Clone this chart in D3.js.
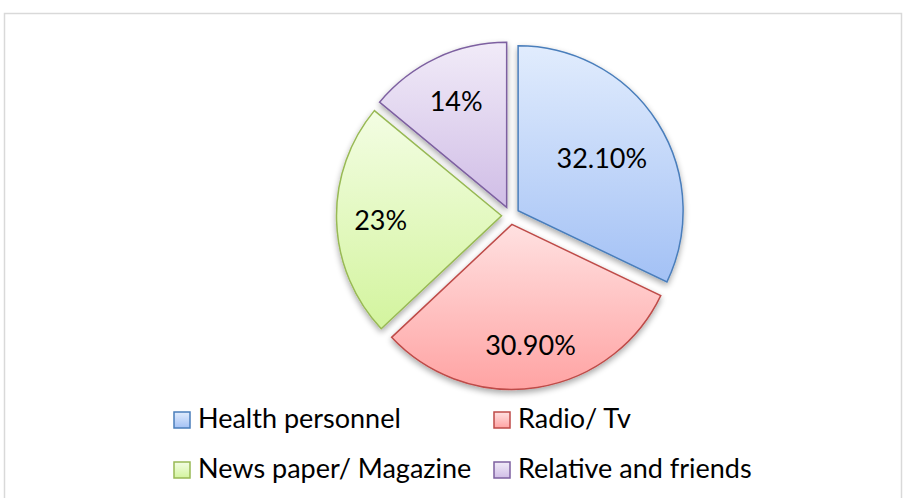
<!DOCTYPE html>
<html>
<head>
<meta charset="utf-8">
<script src="https://cdn.jsdelivr.net/npm/d3@7"></script>
<style>
  html, body { margin: 0; padding: 0; background: #fff; }
  svg { display: block; }
</style>
</head>
<body>
<svg id="chart" width="903" height="498"></svg>
<script>
// chart data
const categories = ['Health personnel', 'Radio/ Tv', 'News paper/ Magazine', 'Relative and friends'];
const values = [32.1, 30.9, 23, 14];
const labels = ['32.10%', '30.90%', '23%', '14%'];

// colours (Office style accents + light gradient stops)
const strokes = ['#4a7ebb', '#be4b48', '#98b954', '#7d60a0'];
const topColors = ['#e1ecfd', '#ffe1e1', '#f3fde3', '#f1ebf8'];
const bottomColors = ['#a3c1f5', '#ffa3a3', '#d3f49e', '#d0bde6'];

const width = 903, height = 498;
const cx = 510.5, cy = 215.5;   // pie centre
const radius = 165;
const explode = 9;
const font = 'Lato, "Liberation Sans", sans-serif';

const svg = d3.select('#chart');
const defs = svg.append('defs');

// soft shadow under the slices
const shadow = defs.append('filter')
  .attr('id', 'shadow')
  .attr('x', '-20%').attr('y', '-20%')
  .attr('width', '140%').attr('height', '140%');
shadow.append('feGaussianBlur').attr('in', 'SourceAlpha').attr('stdDeviation', 3);
shadow.append('feOffset').attr('dx', 0).attr('dy', 3).attr('result', 'off');
shadow.append('feComponentTransfer').append('feFuncA').attr('type', 'linear').attr('slope', 0.35);
const merge = shadow.append('feMerge');
merge.append('feMergeNode');
merge.append('feMergeNode').attr('in', 'SourceGraphic');

// one vertical gradient per category
categories.forEach((c, i) => {
  const g = defs.append('linearGradient')
    .attr('id', 'grad' + i)
    .attr('x1', 0).attr('y1', 0).attr('x2', 0).attr('y2', 1);
  g.append('stop').attr('offset', '0%').attr('stop-color', topColors[i]);
  g.append('stop').attr('offset', '100%').attr('stop-color', bottomColors[i]);
});

// chart area border
svg.append('rect')
  .attr('x', 4.5).attr('y', 13.5)
  .attr('width', 897).attr('height', 500)
  .attr('fill', '#fff')
  .attr('stroke', '#d9d9d9')
  .attr('stroke-width', 1.5);

const pie = d3.pie().sort(null).value(d => d)(values);
const arc = d3.arc().innerRadius(0).outerRadius(radius);

const pieG = svg.append('g')
  .attr('transform', `translate(${cx},${cy})`);

const slices = pieG.selectAll('g.slice')
  .data(pie)
  .enter()
  .append('g')
  .attr('class', 'slice')
  .attr('transform', d => {
    const a = (d.startAngle + d.endAngle) / 2;
    return `translate(${Math.sin(a) * explode},${-Math.cos(a) * explode})`;
  });

slices.append('path')
  .attr('d', arc)
  .attr('fill', (d, i) => `url(#grad${i})`)
  .attr('stroke', (d, i) => strokes[i])
  .attr('stroke-width', 1.5)
  .attr('stroke-linejoin', 'miter')
  .attr('filter', 'url(#shadow)');

// data labels: pushed out along the bisector until the box reaches a fixed radius
const labelReach = 148;
slices.append('text')
  .text((d, i) => labels[i])
  .attr('font-family', font)
  .attr('font-size', 27)
  .attr('fill', '#000')
  .attr('text-anchor', 'middle')
  .attr('dominant-baseline', 'central')
  .each(function(d) {
    const a = (d.startAngle + d.endAngle) / 2;
    const dx = Math.sin(a), dy = -Math.cos(a);
    const w = this.getComputedTextLength();
    const h = 40;
    const ext = w / 2 * Math.abs(dx) + h / 2 * Math.abs(dy);
    const dist = labelReach - ext;
    d3.select(this).attr('x', dx * dist).attr('y', dy * dist);
  });

// legend, two columns
const legend = svg.append('g').attr('transform', 'translate(174,412)');
const items = legend.selectAll('g.item')
  .data(categories)
  .enter()
  .append('g')
  .attr('class', 'item')
  .attr('transform', (d, i) => `translate(${(i % 2) * 320},${Math.floor(i / 2) * 50})`);

items.append('rect')
  .attr('width', 16).attr('height', 16)
  .attr('fill', (d, i) => `url(#grad${i})`)
  .attr('stroke', (d, i) => strokes[i])
  .attr('stroke-width', 1.5);

items.append('text')
  .attr('x', 24).attr('y', 16)
  .attr('font-family', font)
  .attr('font-size', 27)
  .attr('fill', '#000')
  .text(d => d);
</script>
</body>
</html>
